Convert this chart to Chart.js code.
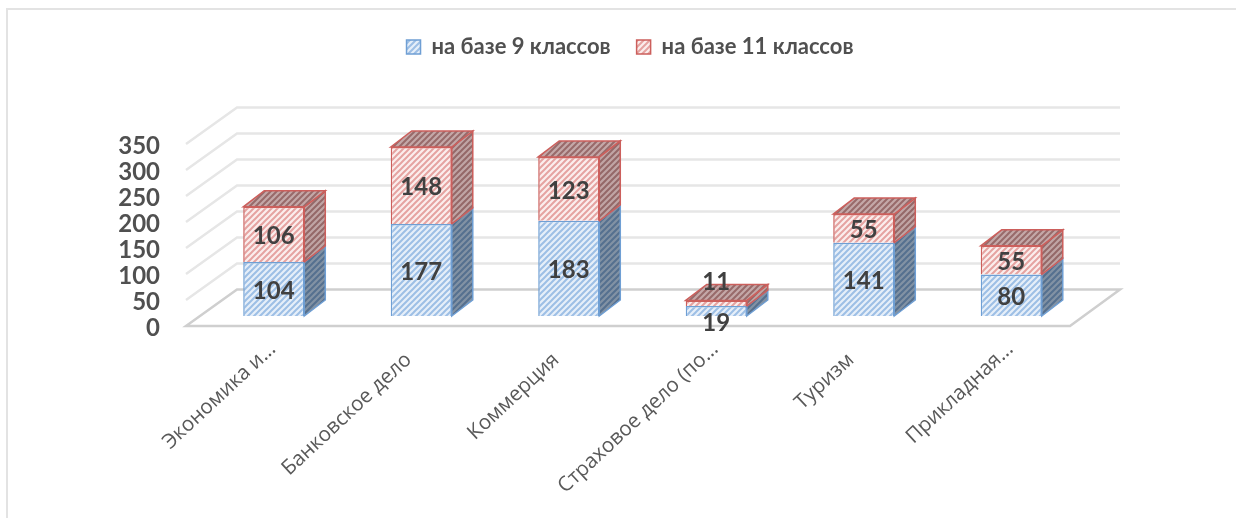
<!DOCTYPE html>
<html>
<head>
<meta charset="utf-8">
<script src="https://cdn.jsdelivr.net/npm/chart.js@4/dist/chart.umd.min.js"></script>
<style>
  html, body { margin: 0; background: #fff; }
  #wrap { position: relative; width: 1236px; height: 518px; overflow: hidden; }
  #frame { position: absolute; left: 6px; top: 8px; width: 1300px; height: 540px; border: 2px solid #e3e3e3; }
  canvas { position: absolute; left: 0; top: 0; filter: blur(0.35px); }
</style>
</head>
<body>
<div id="wrap">
  <div id="frame"></div>
  <canvas id="chart" width="1236" height="518"></canvas>
</div>
<script>
const categories = ["Экономика и...", "Банковское дело", "Коммерция", "Страховое дело (по...", "Туризм", "Прикладная..."];
const base9 = [104, 177, 183, 19, 141, 80];
const base11 = [106, 148, 123, 11, 55, 55];
const seriesNames = ["на базе 9 классов", "на базе 11 классов"];
const yTicks = [0, 50, 100, 150, 200, 250, 300, 350];

// hatch fill, like the office "wide upward diagonal"
function hatch(bg, fg) {
  const c = document.createElement("canvas");
  c.width = c.height = 6;
  const x = c.getContext("2d");
  x.fillStyle = bg;
  x.fillRect(0, 0, 6, 6);
  x.strokeStyle = fg;
  x.lineWidth = 2;
  x.beginPath();
  x.moveTo(-1, 1); x.lineTo(1, -1);
  x.moveTo(-1, 7); x.lineTo(7, -1);
  x.moveTo(5, 7); x.lineTo(7, 5);
  x.stroke();
  return x.createPattern(c, "repeat");
}

const ctx = document.getElementById("chart").getContext("2d");
const blueFill = hatch("#e6eff9", "#9dbfe5");
const redFill = hatch("#fbeeed", "#e5a3a1");
const blueSide = hatch("#8292a4", "#55708f");
const redSide = hatch("#c0a5a5", "#946868");
const redTop = hatch("#c4a8a8", "#986a6a");

const blueLine = "#6f9fd4";
const redLine = "#cc5f5c";
const depthX = 21, depthY = 16;

function quad(c, pts, fill, line) {
  c.beginPath();
  c.moveTo(pts[0][0], pts[0][1]);
  for (let i = 1; i < pts.length; i++) c.lineTo(pts[i][0], pts[i][1]);
  c.closePath();
  c.fillStyle = fill;
  c.fill();
  c.strokeStyle = line;
  c.lineWidth = 1.5;
  c.stroke();
}

const walls = {
  id: "walls",
  beforeDatasetsDraw(chart) {
    const c = chart.ctx, y = chart.scales.y, a = chart.chartArea;
    const backL = a.left + 37, backR = a.right + 35, frontL = a.left - 14, frontR = a.right - 15;
    c.save();
    y.ticks.forEach(t => {
      const p = y.getPixelForValue(t.value);
      c.strokeStyle = t.value === 0 ? "#cfcfcf" : "#e6e6e6";
      c.lineWidth = 2.5;
      c.beginPath();
      c.moveTo(frontL, p + 10);
      c.lineTo(backL, p - 26.5);
      c.lineTo(backR, p - 26.5);
      if (t.value === 0) {
        c.lineTo(frontR, p + 10);
        c.closePath();
      }
      c.stroke();
    });
    c.restore();
  }
};

// sides and tops of the boxes, taken from the bars chart.js laid out
const boxes = {
  id: "boxes",
  beforeDatasetsDraw(chart) {
    const c = chart.ctx;
    c.save();
    chart.data.datasets.forEach((ds, i) => {
      chart.getDatasetMeta(i).data.forEach(bar => {
        const r = bar.x + bar.width / 2, l = bar.x - bar.width / 2;
        const side = i === 0 ? blueSide : redSide;
        const line = i === 0 ? blueLine : redLine;
        quad(c, [[r, bar.base], [r + depthX, bar.base - depthY], [r + depthX, bar.y - depthY], [r, bar.y]], side, line);
        if (i === 1) {
          quad(c, [[l, bar.y], [l + depthX, bar.y - depthY], [r + depthX, bar.y - depthY], [r, bar.y]], redTop, line);
        }
      });
    });
    c.restore();
  }
};

const labelNudge = { 0: { 3: 10 }, 1: { 3: -23 } };

const valueLabels = {
  id: "valueLabels",
  afterDatasetsDraw(chart) {
    const c = chart.ctx;
    c.save();
    c.font = "bold 24px Lato";
    c.fillStyle = "#404040";
    c.textAlign = "center";
    c.textBaseline = "middle";
    chart.data.datasets.forEach((ds, i) => {
      chart.getDatasetMeta(i).data.forEach((bar, j) => {
        const nudge = (labelNudge[i] && labelNudge[i][j]) || 0;
        c.fillText(ds.data[j], bar.x, (bar.y + bar.base) / 2 + 2 + nudge);
      });
    });
    c.restore();
  }
};

// leaves room under the legend, the plot sits well below it
const legendGap = {
  id: "legendGap",
  beforeInit(chart) {
    const fit = chart.legend.fit;
    chart.legend.fit = function () {
      fit.call(this);
      this.height = 124;
    };
  }
};

new Chart(ctx, {
  type: "bar",
  data: {
    labels: categories,
    datasets: [
      { label: seriesNames[0], data: base9, backgroundColor: blueFill, borderColor: blueLine, borderWidth: 1.5 },
      { label: seriesNames[1], data: base11, backgroundColor: redFill, borderColor: redLine, borderWidth: 1.5 }
    ]
  },
  options: {
    responsive: false,
    animation: false,
    categoryPercentage: 0.414,
    barPercentage: 1,
    layout: { padding: { top: 10, left: 24, right: 0, bottom: 0 } },
    plugins: {
      tooltip: { enabled: false },
      legend: {
        position: "top",
        labels: {
          boxWidth: 14, boxHeight: 14, padding: 26,
          color: "#505050",
          font: { family: "Lato", weight: "bold", size: 22 }
        }
      }
    },
    scales: {
      x: {
        stacked: true,
        grid: { display: false },
        border: { display: false },
        ticks: {
          autoSkip: false, minRotation: 43, maxRotation: 43, padding: 13, labelOffset: -1,
          color: "#595959",
          font: { family: "Open Sans", size: 20.5 },
          // full names sit a little further down the slope than cut ones
          callback(value) {
            const name = categories[value];
            return name.endsWith("...") ? name : name + "\u00A0\u00A0\u00A0";
          }
        },
        afterFit(s) { s.height = 518 - 316; }
      },
      y: {
        stacked: true,
        min: 0,
        max: 350,
        grid: { display: false },
        border: { display: false },
        afterBuildTicks(s) { s.ticks = yTicks.map(v => ({ value: v })); },
        afterFit(s) { s.width = 176; },
        ticks: {
          autoSkip: false,
          padding: 32, labelOffset: 12,
          color: "#505050",
          font: { family: "Lato", weight: "bold", size: 24 }
        }
      },
      // empty axis, only keeps the plot clear of the right edge
      side: {
        position: "right",
        grid: { display: false },
        border: { display: false },
        ticks: { display: false },
        afterFit(s) { s.width = 151; }
      }
    }
  },
  plugins: [legendGap, walls, boxes, valueLabels]
});
</script>
</body>
</html>
